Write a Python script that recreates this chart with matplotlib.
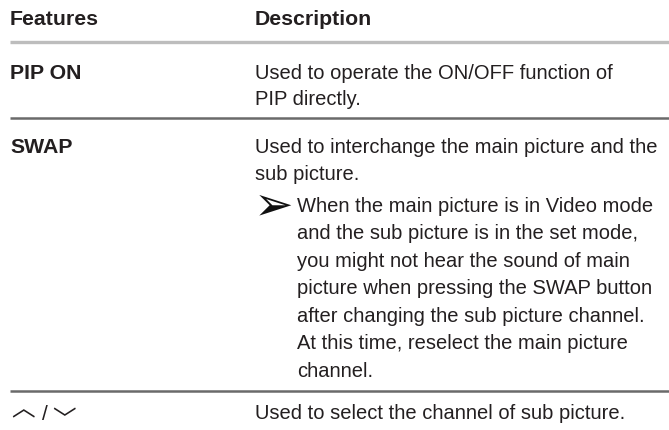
import matplotlib
matplotlib.use('agg')
import matplotlib.pyplot as plt

# table content
headers = ["Features", "Description"]
features = ["PIP ON", "SWAP"]
updown = ["\ufe3f", "/", "\ufe40"]   # up / down chevrons of the last row
descriptions = [
    ["Used to operate the ON/OFF function of", "PIP directly."],
    ["Used to interchange the main picture and the", "sub picture."],
    ["Used to select the channel of sub picture."],
]
note_lines = [
    "When the main picture is in Video mode",
    "and the sub picture is in the set mode,",
    "you might not hear the sound of main",
    "picture when pressing the SWAP button",
    "after changing the sub picture channel.",
    "At this time, reselect the main picture",
    "channel.",
]

W, H = 669, 431
font = ['Liberation Sans', 'DejaVu Sans']
fs = 14.5
fsb = 15.3
lh = 27.5  # line height of the note, px
text_c = '#231f20'

fig = plt.figure(figsize=(W / 100, H / 100), dpi=100)
ax = fig.add_axes([0, 0, 1, 1])
ax.set_xlim(0, W)
ax.set_ylim(H, 0)
ax.axis('off')

x1, x2, x3 = 10, 255, 297

# header
ax.text(x1, 25, headers[0], fontsize=fsb, fontweight='bold', family=font, color=text_c)
ax.text(x2, 25, headers[1], fontsize=fsb, fontweight='bold', family=font, color=text_c)
ax.plot([x1, W], [43, 43], color='#bdbdbd', lw=2.4, solid_capstyle='butt')

# row 1
y = 79
ax.text(x1, y, features[0], fontsize=fsb, fontweight='bold', family=font, color=text_c)
for i, s in enumerate(descriptions[0]):
    ax.text(x2, y + i * 26.5, s, fontsize=fs, family=font, color=text_c)
ax.plot([x1, W], [119, 119], color='#6a6a6a', lw=1.8, solid_capstyle='butt')

# row 2
y = 153
ax.text(x1, y, features[1], fontsize=fsb, fontweight='bold', family=font, color=text_c)
for i, s in enumerate(descriptions[1]):
    ax.text(x2, y + i * 27, s, fontsize=fs, family=font, color=text_c)
ny = 212
ax.text(x2 - 1, ny + 7, "\u27a2", fontsize=34, family='DejaVu Sans', color='#111111')
for i, s in enumerate(note_lines):
    ax.text(x3, ny + i * lh, s, fontsize=fs, family=font, color=text_c)
ax.plot([x1, W], [392, 392], color='#6a6a6a', lw=1.8, solid_capstyle='butt')

# row 3
y = 419
cjk = ['Noto Sans CJK JP', 'DejaVu Sans']
ax.text(11, y - 3, updown[0], fontsize=17, family=cjk, color=text_c)
ax.text(42, y + 1, updown[1], fontsize=15, family=font, color=text_c)
ax.text(52, y + 8, updown[2], fontsize=17, family=cjk, color=text_c)
ax.text(x2, y, descriptions[2][0], fontsize=fs, family=font, color=text_c)

fig.savefig('out.png', dpi=100)
